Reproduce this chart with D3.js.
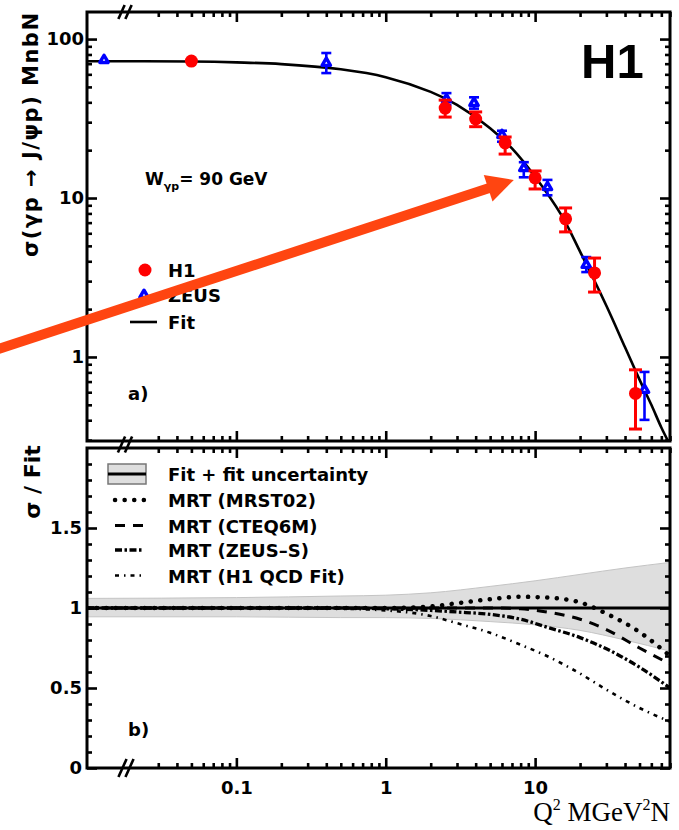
<!DOCTYPE html>
<html>
<head>
<meta charset="utf-8">
<script src="https://cdn.jsdelivr.net/npm/d3@7/dist/d3.min.js"></script>
<style>
  html, body { margin: 0; padding: 0; background: #fff; }
  svg { display: block; }
</style>
</head>
<body>
<svg id="chart" width="679" height="830"></svg>
<script>
// ---------- data ----------
// H1 J/psi cross sections, W = 90 GeV
const h1Q2    = [0.05, 2.5, 4.0, 6.3, 10, 16, 25, 47];
const h1Sigma = [72.7, 36.8, 31.4, 22.2, 13.4, 7.4, 3.38, 0.59];
const h1Up    = [72.7, 41.3, 34.8, 24.2, 14.8, 8.66, 4.19, 0.83];
const h1Down  = [72.7, 32.3, 28.1, 18.9, 11.4, 6.12, 2.56, 0.352];

// ZEUS J/psi cross sections
const zeusQ2    = [0.013, 0.40, 2.55, 3.9, 6.0, 8.4, 12.1, 22, 54];
const zeusSigma = [73.8, 70.7, 41.9, 39.6, 24.9, 15.4, 11.7, 3.79, 0.62];
const zeusUp    = [73.8, 81.7, 45.7, 43.0, 26.5, 16.8, 13.0, 4.25, 0.805];
const zeusDown  = [73.8, 61.1, 38.5, 36.5, 22.6, 13.5, 10.4, 3.42, 0.402];

// Fit curve
const fitQ2    = [0.01, 0.05, 0.1, 0.2, 0.5, 1, 2, 3, 5, 7, 10, 15, 20, 30, 40, 50, 60, 70, 80];
const fitSigma = [72.5, 72.2, 71.3, 69.6, 64.5, 57.6, 46.5, 38.5, 27.5, 20.5, 13.6, 7.8, 4.6, 2.1, 1.15, 0.72, 0.50, 0.36, 0.28];

// Fit uncertainty band (ratio to fit)
const bandQ2   = [0.01, 0.1, 0.5, 1, 2, 5, 10, 20, 40, 80];
const bandUp   = [1.06, 1.065, 1.075, 1.08, 1.095, 1.135, 1.17, 1.21, 1.25, 1.285];
const bandDown = [0.945, 0.945, 0.94, 0.94, 0.935, 0.915, 0.895, 0.86, 0.80, 0.73];

// MRT predictions (ratio to fit)
const mrtQ2     = [0.01, 0.1, 0.5, 1, 2, 3, 5, 8, 12, 20, 30, 50, 80];
const mrtMRST02 = [1.0, 1.0, 1.0, 1.0, 1.01, 1.03, 1.055, 1.07, 1.065, 1.035, 0.965, 0.85, 0.70];
const mrtCTEQ6M = [1.0, 1.0, 1.0, 1.0, 1.0, 1.0, 1.0, 0.995, 0.975, 0.93, 0.865, 0.75, 0.65];
const mrtZEUSS  = [1.0, 1.0, 1.0, 0.995, 0.985, 0.975, 0.96, 0.93, 0.88, 0.815, 0.745, 0.63, 0.50];
const mrtH1QCD  = [1.0, 1.0, 0.995, 0.985, 0.95, 0.905, 0.845, 0.77, 0.70, 0.59, 0.49, 0.375, 0.29];

const modelNames = ["MRT (MRST02)", "MRT (CTEQ6M)", "MRT (ZEUS\u2013S)", "MRT (H1 QCD Fit)"];
const modelSeries = [mrtMRST02, mrtCTEQ6M, mrtZEUSS, mrtH1QCD];

// Axis ticks
const xMajor = [0.1, 1, 10];
const xMajorLabels = ["0.1", "1", "10"];
const yTopMajor = [1, 10, 100];
const yTopMajorLabels = ["1", "10", "100"];
const yBotMajor = [0, 0.5, 1, 1.5];
const yBotMajorLabels = ["0", "0.5", "1", "1.5"];

// Annotation arrow (data coordinates of tail and tip)
const arrowQ2 = [0.0024, 7.2];
const arrowSigma = [1.1, 13.0];

// ---------- layout ----------
const L = 87, R = 670;
const topA = 12, botA = 441, topB = 448, botB = 768;
const sans = "'DejaVu Sans', sans-serif";
const RED = "#ff0000", BLUE = "#0000ff";

const svg = d3.select("#chart");

const x  = d3.scaleLog().domain([0.01, 80]).range([L, R]);
const yA = d3.scaleLog().domain([0.296, 148]).range([botA, topA]);
const yB = d3.scaleLinear().domain([0, 2]).range([botB, topB]);

const defs = svg.append("defs");
defs.append("clipPath").attr("id", "clipA").append("rect")
  .attr("x", L).attr("y", topA).attr("width", R - L).attr("height", botA - topA);
defs.append("clipPath").attr("id", "clipB").append("rect")
  .attr("x", L).attr("y", topB).attr("width", R - L).attr("height", botB - topB);

// ---------- axis helper ----------
function drawTicks(g, axis, vals, size, labels, pad) {
  axis.tickValues(vals).tickSizeInner(-size).tickSizeOuter(0).tickPadding(pad || 3)
      .tickFormat((d, i) => labels ? labels[i] : "");
  g.call(axis);
  g.select(".domain").remove();
  g.selectAll(".tick line").attr("stroke", "#000").attr("stroke-width", 2.6);
  g.selectAll(".tick text")
    .attr("font-family", sans).attr("font-weight", "bold")
    .attr("font-size", 18).attr("fill", "#000");
}

const xMinor = x.ticks().filter(v => v >= 0.029 && !xMajor.some(m => Math.abs(m - v) < 1e-9));
const yTopMinor = yA.ticks().filter(v => !yTopMajor.some(m => Math.abs(m - v) < 1e-9));
const yBotMinor = d3.range(0, 20).map(i => i / 10).filter(v => !yBotMajor.some(m => Math.abs(m - v) < 1e-9));

// ---------- panel a ----------
const gA = svg.append("g");

// fit curve
const fitLine = d3.line()
  .x((d, i) => x(fitQ2[i])).y(d => yA(d))
  .curve(d3.curveCatmullRom.alpha(0.5));
gA.append("path").datum(fitSigma)
  .attr("clip-path", "url(#clipA)")
  .attr("d", fitLine).attr("fill", "none")
  .attr("stroke", "#000").attr("stroke-width", 2.6);

// ZEUS points
const tri = d3.symbol().type(d3.symbolTriangle).size(30);
zeusQ2.forEach((q, i) => {
  const px = x(q);
  if (zeusUp[i] !== zeusDown[i]) {
    gA.append("line").attr("x1", px).attr("x2", px)
      .attr("y1", yA(zeusUp[i])).attr("y2", yA(zeusDown[i]))
      .attr("stroke", BLUE).attr("stroke-width", 2.6);
    [zeusUp[i], zeusDown[i]].forEach(v => {
      gA.append("line").attr("x1", px - 5).attr("x2", px + 5)
        .attr("y1", yA(v)).attr("y2", yA(v))
        .attr("stroke", BLUE).attr("stroke-width", 2.6);
    });
  }
  gA.append("path").attr("d", tri)
    .attr("transform", `translate(${px},${yA(zeusSigma[i])})`)
    .attr("fill", "#fff").attr("stroke", BLUE).attr("stroke-width", 3.4)
    .attr("stroke-linejoin", "round");
});

// H1 points
h1Q2.forEach((q, i) => {
  const px = x(q);
  if (h1Up[i] !== h1Down[i]) {
    gA.append("line").attr("x1", px).attr("x2", px)
      .attr("y1", yA(h1Up[i])).attr("y2", yA(h1Down[i]))
      .attr("stroke", RED).attr("stroke-width", 3);
    [h1Up[i], h1Down[i]].forEach(v => {
      gA.append("line").attr("x1", px - 6.5).attr("x2", px + 6.5)
        .attr("y1", yA(v)).attr("y2", yA(v))
        .attr("stroke", RED).attr("stroke-width", 3);
    });
  }
  gA.append("circle").attr("cx", px).attr("cy", yA(h1Sigma[i]))
    .attr("r", 6.5).attr("fill", RED);
});

// frame
gA.append("rect").attr("x", L).attr("y", topA).attr("width", R - L).attr("height", botA - topA)
  .attr("fill", "none").attr("stroke", "#000").attr("stroke-width", 3);

// axes for panel a
drawTicks(gA.append("g").attr("transform", `translate(${L},0)`), d3.axisLeft(yA), yTopMajor, 10, yTopMajorLabels, 3);
drawTicks(gA.append("g").attr("transform", `translate(${L},0)`), d3.axisLeft(yA), yTopMinor, 5, null);
drawTicks(gA.append("g").attr("transform", `translate(${R},0)`), d3.axisRight(yA), yTopMajor, 10, null);
drawTicks(gA.append("g").attr("transform", `translate(${R},0)`), d3.axisRight(yA), yTopMinor, 5, null);
drawTicks(gA.append("g").attr("transform", `translate(0,${topA})`), d3.axisTop(x), xMajor, 10, null);
drawTicks(gA.append("g").attr("transform", `translate(0,${topA})`), d3.axisTop(x), xMinor, 5, null);
drawTicks(gA.append("g").attr("transform", `translate(0,${botA})`), d3.axisBottom(x), xMajor, 10, null);
drawTicks(gA.append("g").attr("transform", `translate(0,${botA})`), d3.axisBottom(x), xMinor, 5, null);

// y title panel a
svg.append("text")
  .attr("transform", `translate(38,${(13 + 257) / 2}) rotate(-90)`)
  .attr("text-anchor", "middle")
  .attr("font-family", sans).attr("font-weight", "bold").attr("font-size", 21)
  .attr("textLength", 244).attr("lengthAdjust", "spacing")
  .text("\u03c3(\u03b3p \u2192 J/\u03c8p) MnbN");

// H1 label
svg.append("text").attr("x", 581).attr("y", 78)
  .attr("font-family", "'Liberation Sans', Arial, sans-serif").attr("font-weight", "bold")
  .attr("font-size", 49).text("H1");

// W label
const wText = svg.append("text").attr("x", 145).attr("y", 185)
  .attr("font-family", sans).attr("font-weight", "bold").attr("font-size", 17);
wText.append("tspan").text("W");
wText.append("tspan").attr("font-size", 11).attr("dy", 5).text("\u03b3p");
wText.append("tspan").attr("dy", -5).text("= 90 GeV");

// legend panel a
svg.append("circle").attr("cx", 145).attr("cy", 270).attr("r", 6.5).attr("fill", RED);
svg.append("path").attr("d", tri).attr("transform", "translate(144,295)")
  .attr("fill", "#fff").attr("stroke", BLUE).attr("stroke-width", 3.4)
  .attr("stroke-linejoin", "round");
svg.append("line").attr("x1", 130).attr("x2", 157).attr("y1", 322).attr("y2", 322)
  .attr("stroke", "#000").attr("stroke-width", 2.6);
[["H1", 277], ["ZEUS", 302], ["Fit", 329]].forEach(([t, yy]) => {
  svg.append("text").attr("x", 168).attr("y", yy)
    .attr("font-family", sans).attr("font-weight", "bold").attr("font-size", 18).text(t);
});

svg.append("text").attr("x", 128).attr("y", 400)
  .attr("font-family", sans).attr("font-weight", "bold").attr("font-size", 18).text("a)");

// ---------- panel b ----------
const gB = svg.append("g");

const bandArea = d3.area()
  .x((d, i) => x(bandQ2[i]))
  .y0((d, i) => yB(bandDown[i]))
  .y1(d => yB(d))
  .curve(d3.curveMonotoneX);
gB.append("path").datum(bandUp)
  .attr("clip-path", "url(#clipB)")
  .attr("d", bandArea).attr("fill", "#dedede")
  .attr("stroke", "#c4c4c4").attr("stroke-width", 1);

// fit reference line at ratio 1
gB.append("line")
  .attr("x1", x(fitQ2[0])).attr("x2", x(fitQ2[fitQ2.length - 1]))
  .attr("y1", yB(1)).attr("y2", yB(1))
  .attr("stroke", "#000").attr("stroke-width", 3);

const modelStyles = [
  { w: 4.5, dash: "0.1,9.5", cap: "round" },
  { w: 3,   dash: "10,8",    cap: "butt" },
  { w: 3.3, dash: "7,2.5,2.5,2.5", cap: "butt" },
  { w: 2.6, dash: "4,5,1.5,5", cap: "butt" }
];

const ratioLine = d3.line()
  .x((d, i) => x(mrtQ2[i])).y(d => yB(d))
  .curve(d3.curveMonotoneX);

modelSeries.forEach((s, k) => {
  const st = modelStyles[k];
  gB.append("path").datum(s)
    .attr("clip-path", "url(#clipB)")
    .attr("d", ratioLine).attr("fill", "none")
    .attr("stroke", "#000").attr("stroke-width", st.w)
    .attr("stroke-dasharray", st.dash).attr("stroke-linecap", st.cap);
});

gB.append("rect").attr("x", L).attr("y", topB).attr("width", R - L).attr("height", botB - topB)
  .attr("fill", "none").attr("stroke", "#000").attr("stroke-width", 3);

drawTicks(gB.append("g").attr("transform", `translate(${L},0)`), d3.axisLeft(yB), yBotMajor, 10, yBotMajorLabels, 5);
drawTicks(gB.append("g").attr("transform", `translate(${L},0)`), d3.axisLeft(yB), yBotMinor, 5, null);
drawTicks(gB.append("g").attr("transform", `translate(${R},0)`), d3.axisRight(yB), yBotMajor, 10, null);
drawTicks(gB.append("g").attr("transform", `translate(${R},0)`), d3.axisRight(yB), yBotMinor, 5, null);
drawTicks(gB.append("g").attr("transform", `translate(0,${topB})`), d3.axisTop(x), xMajor, 10, null);
drawTicks(gB.append("g").attr("transform", `translate(0,${topB})`), d3.axisTop(x), xMinor, 5, null);
drawTicks(gB.append("g").attr("transform", `translate(0,${botB})`), d3.axisBottom(x), xMajor, 10, xMajorLabels, 13);
drawTicks(gB.append("g").attr("transform", `translate(0,${botB})`), d3.axisBottom(x), xMinor, 5, null);

// y title panel b
svg.append("text")
  .attr("transform", `translate(40,${(447 + 517) / 2}) rotate(-90)`)
  .attr("text-anchor", "middle")
  .attr("font-family", sans).attr("font-weight", "bold").attr("font-size", 22)
  .text("\u03c3 / Fit");

// x title
const xt = svg.append("text").attr("x", 670).attr("y", 821).attr("text-anchor", "end")
  .attr("font-family", "'Liberation Serif', 'Times New Roman', serif").attr("font-size", 27);
xt.append("tspan").text("Q");
xt.append("tspan").attr("font-size", 16).attr("dy", -11).text("2");
xt.append("tspan").attr("dy", 11).text(" MGeV");
xt.append("tspan").attr("font-size", 16).attr("dy", -11).text("2");
xt.append("tspan").attr("dy", 11).text("N");

// legend panel b
const legY = [474, 500, 525.5, 550, 575.5];
svg.append("rect").attr("x", 108).attr("y", 464).attr("width", 38).attr("height", 20)
  .attr("fill", "#dedede").attr("stroke", "#777").attr("stroke-width", 1.5);
svg.append("line").attr("x1", 108).attr("x2", 146).attr("y1", legY[0]).attr("y2", legY[0])
  .attr("stroke", "#000").attr("stroke-width", 3);
svg.append("text").attr("x", 168).attr("y", legY[0] + 7)
  .attr("font-family", sans).attr("font-weight", "bold").attr("font-size", 18)
  .text("Fit + fit uncertainty");
modelNames.forEach((name, k) => {
  const st = modelStyles[k];
  const yy = legY[k + 1];
  svg.append("line").attr("x1", 115).attr("x2", 144).attr("y1", yy).attr("y2", yy)
    .attr("stroke", "#000").attr("stroke-width", st.w)
    .attr("stroke-dasharray", st.dash).attr("stroke-linecap", st.cap);
  svg.append("text").attr("x", 168).attr("y", yy + 7)
    .attr("font-family", sans).attr("font-weight", "bold").attr("font-size", 18)
    .text(name);
});

svg.append("text").attr("x", 128).attr("y", 736)
  .attr("font-family", sans).attr("font-weight", "bold").attr("font-size", 18).text("b)");

// axis break marks
function breakMark(cx, cy, h) {
  [-3.5, 3.5].forEach(dx => {
    svg.append("line")
      .attr("x1", cx + dx - h * 0.45).attr("y1", cy + h)
      .attr("x2", cx + dx + h * 0.45).attr("y2", cy - h)
      .attr("stroke", "#000").attr("stroke-width", 2.6);
  });
}
breakMark(125, topA, 7);
breakMark(125, (botA + topB) / 2, 8);
breakMark(126, botB, 9);

// ---------- annotation arrow ----------
const ax0 = x(arrowQ2[0]), ay0 = yA(arrowSigma[0]);
const ax1 = x(arrowQ2[1]), ay1 = yA(arrowSigma[1]);
const ang = Math.atan2(ay1 - ay0, ax1 - ax0);
const headLen = 27, headHalf = 14;
const bx = ax1 - headLen * Math.cos(ang), by = ay1 - headLen * Math.sin(ang);
const ARROW = "#ff4511";
svg.append("line").attr("x1", ax0).attr("y1", ay0).attr("x2", bx + 2 * Math.cos(ang)).attr("y2", by + 2 * Math.sin(ang))
  .attr("stroke", ARROW).attr("stroke-width", 10);
svg.append("path")
  .attr("d", d3.line()([
    [ax1, ay1],
    [bx + headHalf * Math.sin(ang), by - headHalf * Math.cos(ang)],
    [bx - headHalf * Math.sin(ang), by + headHalf * Math.cos(ang)]
  ]) + "Z")
  .attr("fill", ARROW);
</script>
</body>
</html>
